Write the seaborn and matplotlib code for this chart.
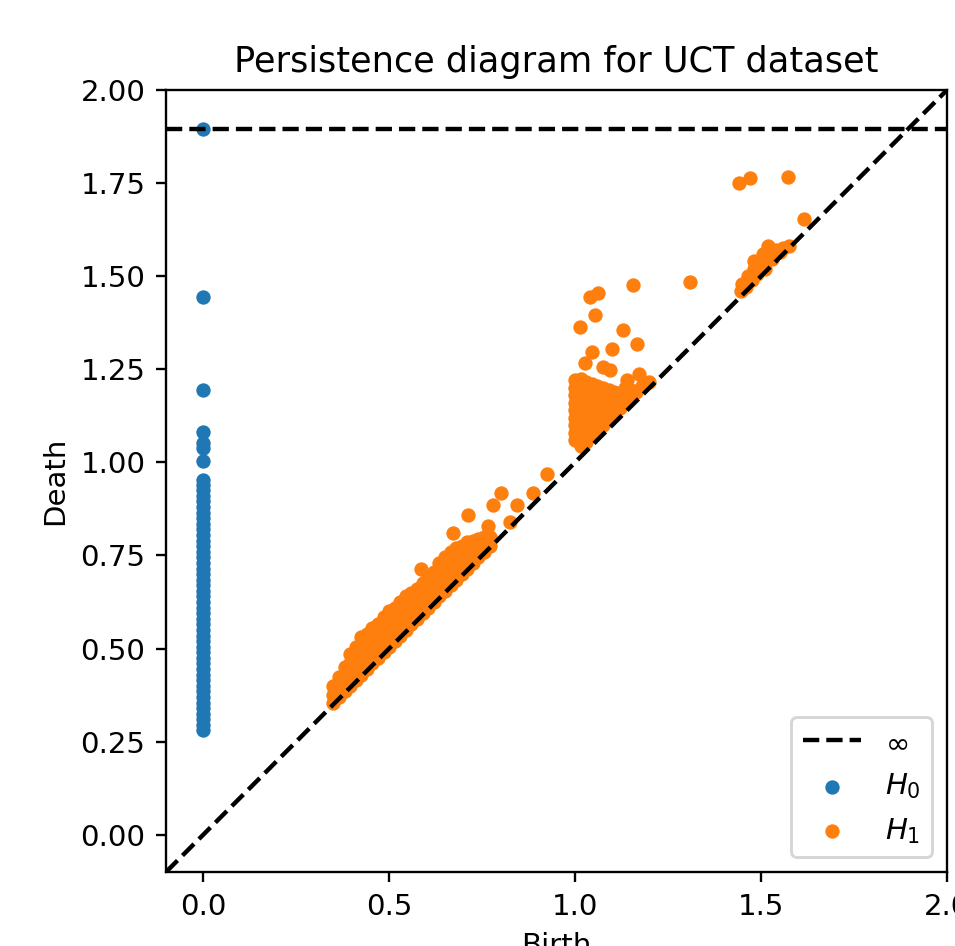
import numpy as np
import pandas as pd
import seaborn as sns
import matplotlib.pyplot as plt

# H0: every class is born at 0, deaths read off the column (inf = never dies)
h0_death = [0.280, 0.295, 0.310, 0.325, 0.340, 0.355, 0.370, 0.385, 0.400, 0.415,
            0.430, 0.445, 0.460, 0.475, 0.490, 0.505, 0.520, 0.535, 0.550, 0.565,
            0.580, 0.595, 0.610, 0.625, 0.640, 0.655, 0.670, 0.685, 0.700, 0.715,
            0.730, 0.745, 0.760, 0.775, 0.790, 0.805, 0.820, 0.835, 0.850, 0.865,
            0.880, 0.895, 0.910, 0.925, 0.940, 0.952, 1.005, 1.038, 1.051, 1.081,
            1.194, 1.444, np.inf]

# H1: main band along the diagonal, (birth, deaths)
h1_band = [
    (0.350, [0.355, 0.375, 0.400]),
    (0.365, [0.370, 0.390, 0.410, 0.425]),
    (0.380, [0.385, 0.405, 0.425, 0.450]),
    (0.395, [0.400, 0.420, 0.440, 0.460, 0.485]),
    (0.410, [0.415, 0.435, 0.455, 0.475, 0.505]),
    (0.425, [0.430, 0.450, 0.470, 0.490, 0.510, 0.530]),
    (0.440, [0.445, 0.465, 0.485, 0.505, 0.525, 0.540]),
    (0.455, [0.460, 0.480, 0.500, 0.520, 0.540, 0.555]),
    (0.470, [0.475, 0.495, 0.515, 0.535, 0.555, 0.565]),
    (0.485, [0.490, 0.510, 0.530, 0.550, 0.570, 0.585]),
    (0.500, [0.505, 0.525, 0.545, 0.565, 0.585, 0.600]),
    (0.515, [0.520, 0.540, 0.560, 0.580, 0.600, 0.610]),
    (0.530, [0.535, 0.555, 0.575, 0.595, 0.615, 0.625]),
    (0.545, [0.550, 0.570, 0.590, 0.610, 0.630, 0.640]),
    (0.560, [0.565, 0.585, 0.605, 0.625, 0.645, 0.650]),
    (0.575, [0.580, 0.600, 0.620, 0.640, 0.660]),
    (0.590, [0.595, 0.615, 0.635, 0.655, 0.675]),
    (0.605, [0.610, 0.630, 0.650, 0.670, 0.690]),
    (0.620, [0.625, 0.645, 0.665, 0.685, 0.705]),
    (0.635, [0.640, 0.660, 0.680, 0.700, 0.730]),
    (0.650, [0.655, 0.675, 0.695, 0.715, 0.745]),
    (0.665, [0.670, 0.690, 0.710, 0.730, 0.760]),
    (0.680, [0.685, 0.705, 0.725, 0.745, 0.770]),
    (0.695, [0.700, 0.720, 0.740, 0.760, 0.775]),
    (0.710, [0.715, 0.735, 0.755, 0.785]),
    (0.725, [0.730, 0.750, 0.770, 0.790]),
    (0.740, [0.745, 0.765, 0.795]),
    (0.755, [0.760, 0.780, 0.800]),
    (0.770, [0.775, 0.800]),
]

# H1: dense cluster right after birth = 1.0
h1_cluster = [
    (1.000, [1.060, 1.080, 1.100, 1.120, 1.140, 1.160, 1.180, 1.200, 1.220]),
    (1.015, [1.045, 1.065, 1.085, 1.105, 1.125, 1.145, 1.165, 1.185, 1.205, 1.225]),
    (1.030, [1.055, 1.075, 1.095, 1.115, 1.135, 1.155, 1.175, 1.195, 1.215]),
    (1.045, [1.070, 1.090, 1.110, 1.130, 1.150, 1.170, 1.190, 1.210]),
    (1.060, [1.085, 1.105, 1.125, 1.145, 1.165, 1.185, 1.205]),
    (1.075, [1.100, 1.120, 1.140, 1.160, 1.180, 1.200]),
    (1.090, [1.115, 1.135, 1.155, 1.175, 1.195]),
    (1.105, [1.130, 1.150, 1.170, 1.190]),
    (1.120, [1.145, 1.165, 1.185]),
    (1.135, [1.160, 1.180, 1.200]),
    (1.150, [1.175, 1.195]),
    (1.165, [1.190]),
    (1.180, [1.205]),
]

# H1: small cluster near 1.5
h1_late_birth = [1.445, 1.450, 1.460, 1.465, 1.475, 1.480, 1.480, 1.490, 1.500,
                 1.505, 1.510, 1.520, 1.520, 1.530, 1.540, 1.550, 1.560, 1.575]
h1_late_death = [1.460, 1.480, 1.470, 1.500, 1.490, 1.520, 1.540, 1.505, 1.530,
                 1.560, 1.520, 1.545, 1.580, 1.545, 1.570, 1.565, 1.575, 1.580]

# H1: isolated points
h1_out_birth = [0.586, 0.672, 0.712, 0.766, 0.780, 0.800, 0.825, 0.845, 0.887, 0.925,
                1.013, 1.027, 1.040, 1.045, 1.054, 1.062, 1.075, 1.094, 1.100, 1.129,
                1.140, 1.155, 1.167, 1.172, 1.200, 1.310, 1.440, 1.470, 1.573, 1.615]
h1_out_death = [0.715, 0.810, 0.858, 0.830, 0.885, 0.917, 0.840, 0.885, 0.917, 0.968,
                1.363, 1.266, 1.444, 1.296, 1.395, 1.454, 1.255, 1.247, 1.304, 1.355,
                1.220, 1.476, 1.317, 1.237, 1.215, 1.484, 1.750, 1.763, 1.766, 1.653]

inf_level = 1.895
lims = (-0.1, 2.0)

h0 = pd.DataFrame({'birth': 0.0, 'death': h0_death})
h0['death'] = h0['death'].replace(np.inf, inf_level)

band = [(b, d) for b, ds in h1_band + h1_cluster for d in ds]
h1 = pd.concat([
    pd.DataFrame(band, columns=['birth', 'death']),
    pd.DataFrame({'birth': h1_late_birth, 'death': h1_late_death}),
    pd.DataFrame({'birth': h1_out_birth, 'death': h1_out_death}),
], ignore_index=True)

dpi = 211
fig = plt.figure(figsize=(955 / dpi, 946 / dpi), dpi=dpi)
ax = fig.add_axes([166 / 955, 1 - 872 / 946, 781 / 955, 782 / 946])

ax.plot(lims, lims, '--', c='k')
ax.plot(lims, [inf_level, inf_level], '--', c='k', label=r'$\infty$')
sns.scatterplot(data=h0, x='birth', y='death', color='#1f77b4', s=24,
                linewidth=0, label='$H_0$', ax=ax)
sns.scatterplot(data=h1, x='birth', y='death', color='#ff7f0e', s=24,
                linewidth=0, label='$H_1$', ax=ax)

ax.set_xlim(lims)
ax.set_ylim(lims)
ax.set_yticks([0.0, 0.25, 0.5, 0.75, 1.0, 1.25, 1.5, 1.75, 2.0])
ax.set_xticks([0.0, 0.5, 1.0, 1.5, 2.0])
ax.set_xlabel('Birth')
ax.set_ylabel('Death')
ax.set_title('Persistence diagram for UCT dataset')
ax.legend(loc='lower right')

fig.savefig('out.png', dpi=dpi)
